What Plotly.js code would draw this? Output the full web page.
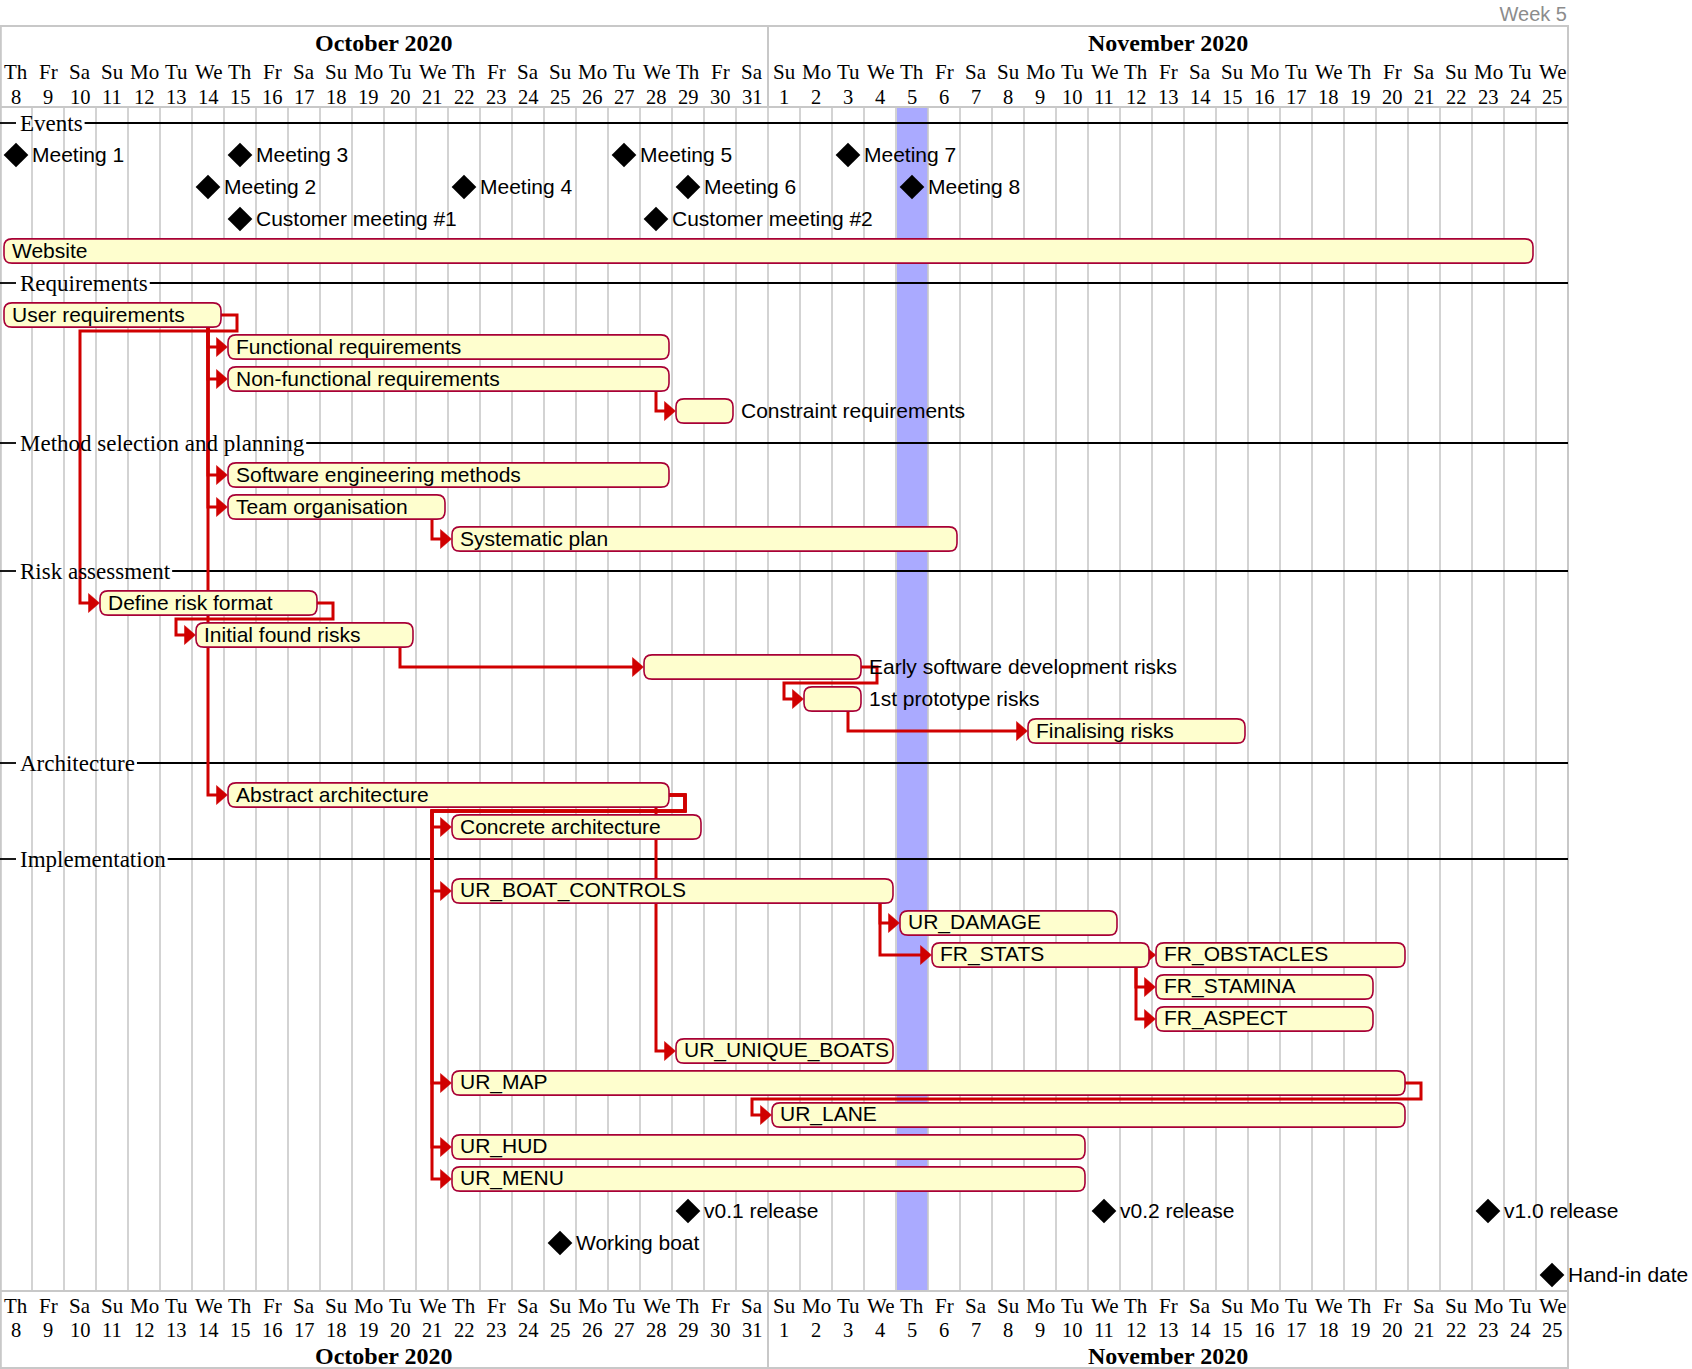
<!DOCTYPE html>
<html><head><meta charset="utf-8">
<script src="https://cdn.plot.ly/plotly-3.0.1.min.js"></script>
<style>html,body{margin:0;padding:0;background:#fff;}#chart{width:1692px;height:1369px;}</style>
</head><body><div id="chart"></div>
<script>
// ---------------- DATA ----------------
const chartStart = '2020-10-08';
const chartEnd = '2020-11-25';
const weekdayAbbr = ['Su','Mo','Tu','We','Th','Fr','Sa'];
const monthTitles = ['October 2020','November 2020'];
const pageTitle = 'Week 5';
const highlightDates = ['2020-11-05'];

const sectionNames = ['Events','Requirements','Method selection and planning','Risk assessment','Architecture','Implementation'];
const sectionLanes = [0,5,10,14,20,23];

const milestoneNames = ['Meeting 1','Meeting 3','Meeting 5','Meeting 7','Meeting 2','Meeting 4','Meeting 6','Meeting 8',
  'Customer meeting #1','Customer meeting #2','v0.1 release','v0.2 release','v1.0 release','Working boat','Hand-in date'];
const milestoneDates = ['2020-10-08','2020-10-15','2020-10-27','2020-11-03','2020-10-14','2020-10-22','2020-10-29','2020-11-05',
  '2020-10-15','2020-10-28','2020-10-29','2020-11-11','2020-11-23','2020-10-25','2020-11-25'];
const milestoneLanes = [1,1,1,1,2,2,2,2,3,3,34,34,34,35,36];

const taskNames = ['Website','User requirements','Functional requirements','Non-functional requirements','Constraint requirements',
  'Software engineering methods','Team organisation','Systematic plan','Define risk format','Initial found risks',
  'Early software development risks','1st prototype risks','Finalising risks','Abstract architecture','Concrete architecture',
  'UR_BOAT_CONTROLS','UR_DAMAGE','FR_STATS','FR_OBSTACLES','FR_STAMINA','FR_ASPECT','UR_UNIQUE_BOATS','UR_MAP','UR_LANE','UR_HUD','UR_MENU'];
const taskStarts = ['2020-10-08','2020-10-08','2020-10-15','2020-10-15','2020-10-29',
  '2020-10-15','2020-10-15','2020-10-22','2020-10-11','2020-10-14',
  '2020-10-28','2020-11-02','2020-11-09','2020-10-15','2020-10-22',
  '2020-10-22','2020-11-05','2020-11-06','2020-11-13','2020-11-13','2020-11-13','2020-10-29','2020-10-22','2020-11-01','2020-10-22','2020-10-22'];
const taskEnds = ['2020-11-24','2020-10-14','2020-10-28','2020-10-28','2020-10-30',
  '2020-10-28','2020-10-21','2020-11-06','2020-10-17','2020-10-20',
  '2020-11-03','2020-11-03','2020-11-15','2020-10-28','2020-10-29',
  '2020-11-04','2020-11-11','2020-11-12','2020-11-20','2020-11-19','2020-11-19','2020-11-04','2020-11-20','2020-11-20','2020-11-10','2020-11-10'];
const taskLanes = [4,6,7,8,9,11,12,13,15,16,17,18,19,21,22,24,25,26,26,27,28,29,30,31,32,33];

const depFrom = ['User requirements','User requirements','User requirements','User requirements','User requirements','User requirements',
  'Non-functional requirements','Team organisation','Define risk format','Initial found risks','Early software development risks','1st prototype risks',
  'Abstract architecture','Abstract architecture','Abstract architecture','Abstract architecture','Abstract architecture','Abstract architecture',
  'UR_BOAT_CONTROLS','UR_BOAT_CONTROLS','FR_STATS','FR_STATS','FR_STATS','UR_MAP'];
const depTo = ['Functional requirements','Non-functional requirements','Software engineering methods','Team organisation','Define risk format','Abstract architecture',
  'Constraint requirements','Systematic plan','Initial found risks','Early software development risks','1st prototype risks','Finalising risks',
  'Concrete architecture','UR_BOAT_CONTROLS','UR_UNIQUE_BOATS','UR_MAP','UR_HUD','UR_MENU',
  'UR_DAMAGE','FR_STATS','FR_OBSTACLES','FR_STAMINA','FR_ASPECT','UR_LANE'];

// ---------------- LAYOUT HELPERS ----------------
const W = 1692, H = 1369;
const DAY = 32, LANE = 32, TOP = 123;
const X = px => px / DAY;                 // px offset -> day units
const Y = py => (py - TOP) / LANE;        // page px -> lane units
const HEAD_TOP = 26, HEAD_BOT = 107, FOOT_TOP = 1291, FOOT_BOT = 1368;
const TXT_DY = -1 / LANE;                 // small upward nudge for row labels

const SANS = 'Liberation Sans, Arial, sans-serif';
const SERIF = 'Liberation Serif, Times New Roman, serif';
const GRID = '#c8c8c8';
const RED = '#d00000';
const BAR_FILL = '#fefece', BAR_LINE = '#a80036';
const TASK_FS = 21, SEC_FS = 23;

function parse(s){ const p = s.split('-').map(Number); return Date.UTC(p[0], p[1]-1, p[2]); }
const t0 = parse(chartStart);
const dIdx = s => Math.round((parse(s) - t0) / 86400000);
const nDays = dIdx(chartEnd) + 1;

const cv = document.createElement('canvas').getContext('2d');
function tw(text, size, fam){ cv.font = size + 'px ' + fam; return cv.measureText(text).width; }

const shapes = [], annotations = [];

// highlight columns
highlightDates.forEach(d => {
  const i = dIdx(d);
  shapes.push({type:'rect', layer:'below', xref:'x', yref:'y', x0:i + X(1), x1:i+1, y0:Y(HEAD_BOT), y1:Y(FOOT_TOP),
    fillcolor:'#aaaaff', line:{width:0}});
});
// day grid lines
for (let k = 1; k < nDays; k++) {
  shapes.push({type:'line', layer:'below', x0:k, x1:k, y0:Y(HEAD_BOT), y1:Y(FOOT_TOP), line:{color:GRID, width:1.6}});
}
// frame
shapes.push({type:'rect', layer:'below', x0:X(0.8), x1:nDays, y0:Y(HEAD_TOP), y1:Y(FOOT_BOT), line:{color:GRID, width:2}, fillcolor:'rgba(0,0,0,0)'});
shapes.push({type:'line', layer:'below', x0:0, x1:nDays, y0:Y(HEAD_BOT), y1:Y(HEAD_BOT), line:{color:GRID, width:2}});
shapes.push({type:'line', layer:'below', x0:0, x1:nDays, y0:Y(FOOT_TOP), y1:Y(FOOT_TOP), line:{color:GRID, width:2}});

// header: days, months
const days = [];
for (let i = 0; i < nDays; i++) {
  const dt = new Date(t0 + i*86400000);
  days.push({i, wd: weekdayAbbr[dt.getUTCDay()], dn: dt.getUTCDate(), m: dt.getUTCMonth()});
}
days.forEach(d => {
  [[72, 97], [1306, 1330]].forEach(([yn, yd]) => {
    annotations.push({x:d.i+0.5, y:Y(yn), text:d.wd, showarrow:false, xanchor:'center', yanchor:'middle', borderpad:0,
      font:{family:SERIF, size:21, color:'#000'}});
    annotations.push({x:d.i+0.5, y:Y(yd), text:String(d.dn), showarrow:false, xanchor:'center', yanchor:'middle', borderpad:0,
      font:{family:SERIF, size:20.5, color:'#000'}});
  });
});
const months = [];
days.forEach(d => { if (!months.length || months[months.length-1].m !== d.m) months.push({m:d.m, a:d.i, b:d.i+1}); else months[months.length-1].b = d.i+1; });
months.forEach((mo, j) => {
  [43, 1356].forEach(yy => annotations.push({x:(mo.a+mo.b)/2, y:Y(yy), text:'<b>'+monthTitles[j]+'</b>', showarrow:false,
    xanchor:'center', yanchor:'middle', borderpad:0, font:{family:SERIF, size:24, color:'#000'}}));
  if (j > 0) {
    shapes.push({type:'line', layer:'below', x0:mo.a, x1:mo.a, y0:Y(HEAD_TOP), y1:Y(HEAD_BOT), line:{color:GRID, width:2}});
    shapes.push({type:'line', layer:'below', x0:mo.a, x1:mo.a, y0:Y(FOOT_TOP), y1:Y(FOOT_BOT), line:{color:GRID, width:2}});
  }
});

// sections
sectionNames.forEach((s, k) => {
  const ln = sectionLanes[k];
  const w = tw(s, SEC_FS, SERIF);
  shapes.push({type:'line', layer:'below', x0:0, x1:X(16), y0:ln, y1:ln, line:{color:'#000', width:1.8}});
  shapes.push({type:'line', layer:'below', x0:X(19 + w + 3), x1:nDays, y0:ln, y1:ln, line:{color:'#000', width:1.8}});
  annotations.push({x:X(18.5), y:ln, text:s, showarrow:false, xanchor:'left', yanchor:'middle', borderpad:0,
    font:{family:SERIF, size:SEC_FS, color:'#000'}});
});

// tasks geometry
const HB = 0.38, R = 0.25;
const T = {};
taskNames.forEach((n, k) => {
  const s = dIdx(taskStarts[k]), e = dIdx(taskEnds[k]) + 1;
  T[n] = {s, e, lane:taskLanes[k], x0:s + X(4), x1:e - X(3)};
});

// dependency arrows
const arrowShapes = [], headShapes = [];
depFrom.forEach((f, k) => {
  const a = T[f], b = T[depTo[k]];
  let path;
  if (a.lane === b.lane) {
    path = `M${a.x1},${a.lane} L${b.x0 - 0.05},${b.lane}`;
  } else if (b.s >= a.e) {
    const xs = a.e - X(16);
    path = `M${xs},${a.lane + HB} L${xs},${b.lane} L${b.x0 - 0.1},${b.lane}`;
  } else {
    const xr = a.e + X(13), yl = a.lane + 0.5, xl = b.s - X(16);
    path = `M${a.x1},${a.lane} L${xr},${a.lane} L${xr},${yl} L${xl},${yl} L${xl},${b.lane} L${b.x0 - 0.1},${b.lane}`;
  }
  arrowShapes.push({type:'path', layer:'below', path, line:{color:RED, width:3}, fillcolor:'rgba(0,0,0,0)'});
  const tip = b.x0 - X(0.5), bw = X(11), hh = 9.5/LANE;
  headShapes.push({type:'path', layer:'below', path:`M${tip},${b.lane} L${tip - bw},${b.lane - hh} L${tip - bw},${b.lane + hh} Z`,
    fillcolor:RED, line:{color:RED, width:0.5}});
});
shapes.push(...arrowShapes, ...headShapes);

// bars + labels
taskNames.forEach(n => {
  const t = T[n];
  const y0 = t.lane - HB, y1 = t.lane + HB, x0 = t.x0, x1 = t.x1;
  const path = `M${x0+R},${y0} L${x1-R},${y0} Q${x1},${y0} ${x1},${y0+R} L${x1},${y1-R} Q${x1},${y1} ${x1-R},${y1} ` +
               `L${x0+R},${y1} Q${x0},${y1} ${x0},${y1-R} L${x0},${y0+R} Q${x0},${y0} ${x0+R},${y0} Z`;
  shapes.push({type:'path', layer:'below', path, fillcolor:BAR_FILL, line:{color:BAR_LINE, width:1.6}});
  const barPx = (x1 - x0) * DAY;
  const inside = tw(n, TASK_FS, SANS) + 4 <= barPx;
  annotations.push({x: inside ? t.s + X(11) : x1 + X(7), y:t.lane + TXT_DY, text:n, showarrow:false, xanchor:'left', yanchor:'middle',
    borderpad:0, font:{family:SANS, size:TASK_FS, color:'#000'}});
});

// milestones
const msX = milestoneDates.map(d => dIdx(d) + 0.5);
milestoneNames.forEach((n, k) => {
  annotations.push({x:msX[k] + X(15), y:milestoneLanes[k] + TXT_DY, text:n, showarrow:false, xanchor:'left', yanchor:'middle',
    borderpad:0, font:{family:SANS, size:TASK_FS, color:'#000'}});
});

const traces = [{
  type:'scatter', mode:'markers', x:msX, y:milestoneLanes, text:milestoneNames, hoverinfo:'text',
  marker:{symbol:'diamond', size:19, color:'#000', line:{width:0}}, cliponaxis:false, showlegend:false
}];

const layout = {
  width:W, height:H, margin:{l:0, r:0, t:0, b:0, pad:0},
  paper_bgcolor:'#fff', plot_bgcolor:'#fff', showlegend:false,
  title:{text:pageTitle, x:1567/W, xanchor:'right', xref:'container', y:1 - 14/H, yanchor:'middle', yref:'container',
    font:{family:SANS, size:20, color:'#8c8c8c'}},
  xaxis:{range:[0, W/DAY], visible:false, fixedrange:true, showgrid:false, zeroline:false},
  yaxis:{range:[(H - TOP)/LANE, -TOP/LANE], visible:false, fixedrange:true, showgrid:false, zeroline:false},
  shapes, annotations
};
Plotly.newPlot('chart', traces, layout, {staticPlot:true, displayModeBar:false});
</script>
</body></html>
